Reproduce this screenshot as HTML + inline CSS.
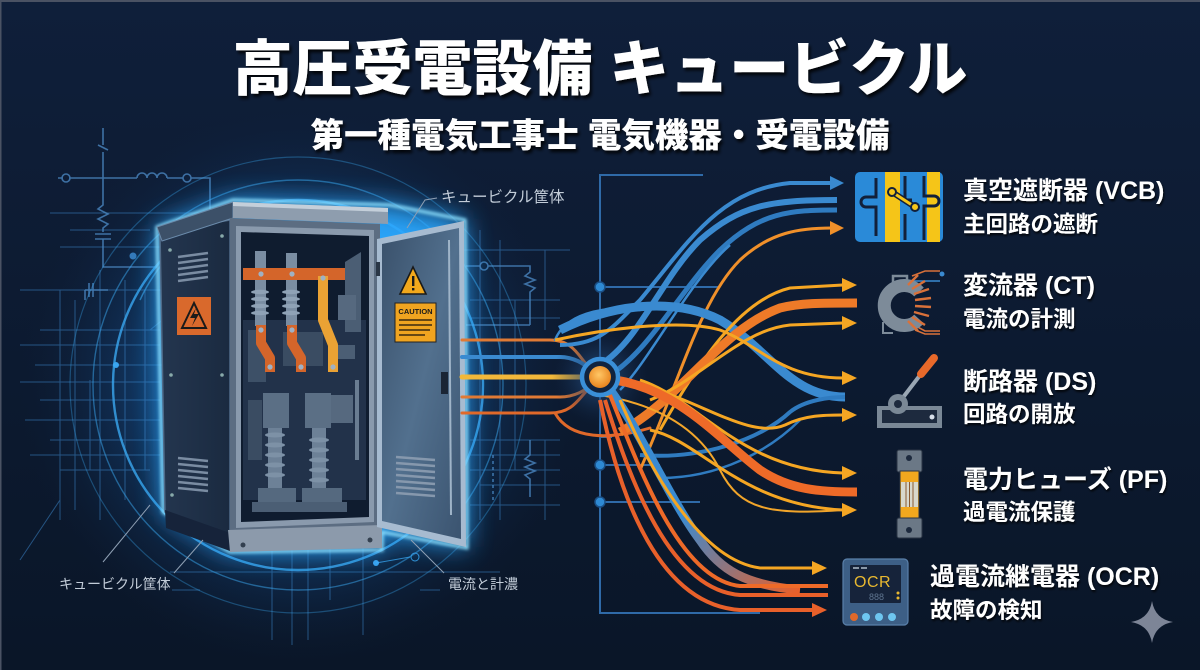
<!DOCTYPE html>
<html><head><meta charset="utf-8">
<style>
html,body{margin:0;padding:0;background:#0c1a30;}
svg{display:block;}
text{font-family:"Liberation Sans","Noto Sans CJK JP",sans-serif;}
</style></head>
<body>
<svg width="1200" height="670" viewBox="0 0 1200 670" xmlns="http://www.w3.org/2000/svg">
<defs>
  <linearGradient id="bg" x1="0" y1="0" x2="0" y2="1">
    <stop offset="0" stop-color="#0f1f3a"/>
    <stop offset="1" stop-color="#0a1628"/>
  </linearGradient>
  <radialGradient id="glowL" cx="300" cy="385" r="280" gradientUnits="userSpaceOnUse">
    <stop offset="0" stop-color="#1f78cc" stop-opacity="0.85"/>
    <stop offset="0.55" stop-color="#175699" stop-opacity="0.5"/>
    <stop offset="1" stop-color="#0f1f3a" stop-opacity="0"/>
  </radialGradient>
  <radialGradient id="hubHalo" cx="600" cy="377" r="48" gradientUnits="userSpaceOnUse">
    <stop offset="0" stop-color="#2a5a92" stop-opacity="0.9"/>
    <stop offset="1" stop-color="#13294a" stop-opacity="0"/>
  </radialGradient>
  <radialGradient id="hubCore" cx="0.45" cy="0.4" r="0.6">
    <stop offset="0" stop-color="#ffc766"/>
    <stop offset="1" stop-color="#e8841e"/>
  </radialGradient>
  <linearGradient id="doorG" x1="0" y1="0" x2="1" y2="1">
    <stop offset="0" stop-color="#3a516b"/>
    <stop offset="0.5" stop-color="#52708e"/>
    <stop offset="1" stop-color="#3b5470"/>
  </linearGradient>
  <linearGradient id="sideG" x1="0" y1="0" x2="1" y2="0">
    <stop offset="0" stop-color="#24364f"/>
    <stop offset="1" stop-color="#1a2a40"/>
  </linearGradient>
  <linearGradient id="blueOrange" x1="0" y1="0" x2="1" y2="1">
    <stop offset="0" stop-color="#3a8ad0"/>
    <stop offset="0.5" stop-color="#3a8ad0"/>
    <stop offset="1" stop-color="#e8602a"/>
  </linearGradient>
  <filter id="blur12" x="-30%" y="-30%" width="160%" height="160%"><feGaussianBlur stdDeviation="13"/></filter>
  <filter id="blur2" x="-30%" y="-30%" width="160%" height="160%"><feGaussianBlur stdDeviation="1.5"/></filter>
  <filter id="tshadow" x="-10%" y="-30%" width="120%" height="160%">
    <feDropShadow dx="2" dy="3" stdDeviation="1.5" flood-color="#000" flood-opacity="0.85"/>
  </filter>
  <filter id="tshadow2" x="-10%" y="-30%" width="120%" height="160%">
    <feDropShadow dx="1" dy="2" stdDeviation="1" flood-color="#000" flood-opacity="0.8"/>
  </filter>
</defs>

<!-- background -->
<rect width="1200" height="670" fill="url(#bg)"/>
<rect width="1200" height="670" fill="url(#glowL)"/>
<rect x="0" y="0" width="1200" height="2" fill="#4a5263"/>
<rect x="0" y="0" width="1.5" height="670" fill="#4a5263"/>

<!-- left grid lines -->
<g stroke="#3f8fd6" stroke-width="1" opacity="0.5" fill="none">
  <path d="M50 213H200 M60 247H210 M20 290H170 M40 330H160 M20 345H160 M35 365H165 M20 382H160 M40 400H160 M25 420H160 M50 440H160 M30 455H160 M60 470H150 M70 230H150"/>
  <path d="M60 290V520 M75 300V510 M100 270V520 M125 280V500 M145 290V470 M90 380V470"/>
  <path d="M460 250H570 M470 300H560 M470 318H560 M470 440H560 M470 455H560 M470 470H560 M470 505H560 M480 485H560"/>
  <path d="M480 230V520 M500 240V520 M515 300V470 M545 250V330 M545 440V520"/>
  <path d="M170 572H500 M172 590H200 M420 590H440"/>
  <path d="M272 545V640 M292 545V645 M308 545V640 M363 545V635 M330 545V600"/>
  <path d="M60 500L20 560 M150 330L250 250"/>
</g>
<!-- circuit symbols -->
<g stroke="#4a86c0" stroke-width="1.6" fill="none" opacity="0.8">
  <path d="M103 128V145 M98 145L108 150 M103 152V205 L98 209 L108 214 L98 219 L108 224 L103 228V232 M95 234H111 M95 239H111 M103 239V267H157"/>
  <path d="M58 178H63 M69 178H137 M137 178 a5 5 0 0 1 10 0 a5 5 0 0 1 10 0 a5 5 0 0 1 10 0 M167 178H183 M191 178H210V218"/>
  <circle cx="66" cy="178" r="4"/><circle cx="187" cy="178" r="4"/>
  <path d="M85 290H93 M89 283V297 M93 283V297 M93 290H108 M85 290V300"/>
  <path d="M466 266H480 M488 266H530V272 L525 276 L535 280 L525 284 L535 288 L530 292V325 M466 325H530"/>
  <circle cx="484" cy="266" r="4"/>
  <path d="M530 440V455 L525 459 L535 463 L525 467 L535 471 L525 475 L530 479V497"/>
  <path d="M493 455V500" stroke-dasharray="3 3"/>
</g>
<circle cx="133" cy="256" r="3.5" fill="#3f8fd6" opacity="0.8"/>
<circle cx="116" cy="365" r="3" fill="#3fb0ff" opacity="0.9"/>
<circle cx="376" cy="563" r="3" fill="#3fb0ff" opacity="0.9"/>
<circle cx="415" cy="557" r="4" fill="none" stroke="#3fb0ff" opacity="0.8"/>
<path d="M376 563L410 557" stroke="#3fb0ff" opacity="0.7"/>

<!-- concentric arcs -->
<g fill="none" stroke="#39a8f0">
  <circle cx="298" cy="385" r="185" stroke-width="2.4" opacity="0.8"/>
  <circle cx="298" cy="385" r="205" stroke-width="1.4" opacity="0.5"/>
  <circle cx="298" cy="385" r="228" stroke-width="1.2" opacity="0.35"/>
  <path d="M140 300 A170 170 0 0 1 175 250" stroke-width="1.5" opacity="0.6"/>
</g>

<!-- cabinet glow -->
<polygon points="157,227 233,200 390,205 465,220 467,548 382,532 382,550 230,552 163,512" fill="#2aa8ff" opacity="0.95" filter="url(#blur12)"/>
<polygon points="157,227 233,200 390,205 465,220 467,548 382,532 382,550 230,552 163,512" fill="none" stroke="#8fe2ff" stroke-width="3" filter="url(#blur2)"/>

<!-- cabinet body -->
<polygon points="160,232 230,220 230,536 165,512" fill="url(#sideG)" stroke="#4f6a88" stroke-width="1.5"/>
<polygon points="165,510 230,533 230,551 166,528" fill="#16233a"/>
<polygon points="157,227 233,202 233,218 162,241" fill="#3c5068" stroke="#6b8bab" stroke-width="1"/>
<polygon points="233,202 388,208 388,224 233,218" fill="#8e9dae"/>
<polygon points="233,202 388,208 388,212 233,206" fill="#c4cfda"/>
<polygon points="230,218 380,224 380,528 230,535" fill="#5c6d82"/>
<polygon points="236,226 374,230 374,522 236,528" fill="#8a9aad"/>
<polygon points="241,232 369,236 369,517 241,522" fill="#0f1c2f"/>
<polygon points="228,530 382,525 382,548 230,552" fill="#8c9aab"/>
<circle cx="243" cy="545" r="2.5" fill="#33404f"/><circle cx="370" cy="540" r="2.5" fill="#33404f"/>
<circle cx="170" cy="250" r="1.8" fill="#8aa"/><circle cx="171" cy="375" r="1.8" fill="#8aa"/><circle cx="172" cy="495" r="1.8" fill="#8aa"/>
<circle cx="222" cy="236" r="1.8" fill="#8aa"/><circle cx="222" cy="375" r="1.8" fill="#8aa"/>

<!-- vents left side -->
<g stroke="#7a8ca2" stroke-width="2.5">
  <path d="M178 257L208 253 M178 263L208 259 M178 269L208 265 M178 275L208 271 M178 281L208 277"/>
  <path d="M178 458L208 461 M178 464L208 467 M178 470L208 473 M178 476L208 479 M178 482L208 485 M178 488L208 491"/>
</g>
<!-- warning sign -->
<rect x="177" y="297" width="34" height="38" fill="#d9692c"/>
<polygon points="194,303 182,328 206,328" fill="none" stroke="#1a1a1a" stroke-width="2"/>
<path d="M196 308 L190 318 L195 318 L192 326 L199 314 L194 314 Z" fill="#1a1a1a"/>

<!-- interior -->
<g>
  <polygon points="243,320 366,320 366,500 243,500" fill="#22324a"/>
  <polygon points="345,262 361,252 361,332 345,332" fill="#4b5e74"/>
  <rect x="338" y="295" width="18" height="25" fill="#56697f"/>
  <rect x="248" y="330" width="18" height="52" fill="#3d5067"/>
  <rect x="283" y="332" width="40" height="34" fill="#3a4c62"/>
  <rect x="335" y="345" width="20" height="14" fill="#4b5e74"/>
  <rect x="263" y="393" width="26" height="35" fill="#5b6f85"/>
  <rect x="305" y="393" width="26" height="35" fill="#5b6f85"/>
  <rect x="331" y="395" width="22" height="28" fill="#56697f"/>
  <rect x="248" y="400" width="14" height="60" fill="#3a4c62"/>
  <rect x="355" y="380" width="4" height="80" fill="#6a7d92"/>
  <rect x="268" y="428" width="14" height="60" fill="#6d8197"/>
  <rect x="312" y="428" width="14" height="60" fill="#6d8197"/>
  <g fill="#7d91a6">
    <ellipse cx="275" cy="435" rx="10" ry="2.5"/><ellipse cx="275" cy="445" rx="10" ry="2.5"/><ellipse cx="275" cy="455" rx="10" ry="2.5"/><ellipse cx="275" cy="465" rx="10" ry="2.5"/><ellipse cx="275" cy="475" rx="10" ry="2.5"/>
    <ellipse cx="319" cy="440" rx="10" ry="2.5"/><ellipse cx="319" cy="450" rx="10" ry="2.5"/><ellipse cx="319" cy="460" rx="10" ry="2.5"/><ellipse cx="319" cy="470" rx="10" ry="2.5"/><ellipse cx="319" cy="480" rx="10" ry="2.5"/>
  </g>
  <rect x="258" y="488" width="38" height="14" fill="#55697f"/>
  <rect x="302" y="488" width="40" height="14" fill="#55697f"/>
  <rect x="252" y="502" width="95" height="10" fill="#4b5e74"/>
  <rect x="255" y="251" width="11" height="75" fill="#7a8da2"/>
  <rect x="286" y="253" width="11" height="73" fill="#7a8da2"/>
  <g fill="#8fa2b6">
    <ellipse cx="260" cy="292" rx="9" ry="2.2"/><ellipse cx="260" cy="299" rx="9" ry="2.2"/><ellipse cx="260" cy="306" rx="9" ry="2.2"/><ellipse cx="260" cy="313" rx="9" ry="2.2"/>
    <ellipse cx="291" cy="292" rx="9" ry="2.2"/><ellipse cx="291" cy="299" rx="9" ry="2.2"/><ellipse cx="291" cy="306" rx="9" ry="2.2"/><ellipse cx="291" cy="313" rx="9" ry="2.2"/>
  </g>
  <rect x="243" y="268" width="102" height="12" fill="#d4652a"/>
  <path d="M261 325V343L270 358V372" stroke="#d4652a" stroke-width="10" fill="none" stroke-linejoin="round"/>
  <path d="M292 325V343L301 358V372" stroke="#d4652a" stroke-width="10" fill="none" stroke-linejoin="round"/>
  <path d="M323 276V320L333 345V372" stroke="#eaa234" stroke-width="10" fill="none" stroke-linejoin="round"/>
  <g fill="#9fb1c4">
    <circle cx="261" cy="274" r="2.6"/><circle cx="292" cy="274" r="2.6"/><circle cx="323" cy="278" r="2.6"/>
    <circle cx="261" cy="330" r="2.6"/><circle cx="292" cy="330" r="2.6"/>
    <circle cx="270" cy="367" r="2.6"/><circle cx="301" cy="367" r="2.6"/><circle cx="333" cy="367" r="2.6"/>
  </g>
</g>

<!-- door -->
<polygon points="377,239 464,221 466,547 377,527" fill="#a7bbd0"/>
<polygon points="382,244 459,228 461,539 382,521" fill="url(#doorG)"/>
<line x1="449" y1="240" x2="451" y2="515" stroke="#9fb4c8" stroke-width="2"/>
<rect x="441" y="372" width="7" height="22" fill="#1a2535"/>
<rect x="376" y="262" width="4" height="14" fill="#2a3646"/>
<polygon points="413,267 400,294 426,294" fill="#f2a81c" stroke="#1a1a1a" stroke-width="1.6"/>
<rect x="412" y="276" width="2.4" height="10" fill="#1a1a1a"/><rect x="412" y="288" width="2.4" height="2.4" fill="#1a1a1a"/>
<rect x="395" y="303" width="41" height="39" fill="#f0a420" stroke="#222" stroke-width="1"/>
<text x="415.5" y="314" font-size="7.5" font-weight="bold" fill="#1a1a1a" text-anchor="middle">CAUTION</text>
<g stroke="#3a2a10" stroke-width="1.6"><path d="M399 320H432 M399 325H432 M399 330H430 M399 335H425"/></g>
<g stroke="#8698ad" stroke-width="2.5">
  <path d="M396 457L435 460 M396 463L435 466 M396 469L435 472 M396 475L435 478 M396 481L435 484 M396 487L435 490 M396 493L435 496"/>
</g>

<!-- labels around cabinet -->
<g stroke="#8fa0b4" stroke-width="1" fill="none">
  <path d="M437 198 L425 200 L407 228"/>
  <path d="M174 573 L203 540"/>
  <path d="M103 562 L150 505"/>
  <path d="M444 573 L411 540"/>
</g>
<text x="441" y="202" font-size="15.5" fill="#c2ccd8">キュービクル筐体</text>
<text x="59" y="589" font-size="14" fill="#c2ccd8">キュービクル筐体</text>
<text x="448" y="589" font-size="14" fill="#c2ccd8">電流と計濃</text>

<!-- bus line -->
<g stroke="#2f6aa8" stroke-width="2" fill="none">
  <path d="M703 175H600V613H760"/>
  <path d="M600 287H720 M600 465H660 M600 502H700 M600 437H612"/>
</g>
<g fill="#2e8ad4" stroke="#1b4f85" stroke-width="1.5">
  <circle cx="600" cy="287" r="5"/><circle cx="600" cy="465" r="5"/><circle cx="600" cy="502" r="5"/>
</g>

<!-- incoming lines -->
<g fill="none" stroke-linecap="round">
  <path d="M462 340H550C575 340 580 360 590 368" stroke="#e07a35" stroke-width="3"/>
  <path d="M462 357H560C575 357 585 365 592 370" stroke="#3a8ad0" stroke-width="4"/>
  <path d="M462 377H584" stroke="#f2b83a" stroke-width="5"/>
  <path d="M462 397H560C575 397 585 390 592 385" stroke="#e07a35" stroke-width="3"/>
  <path d="M462 413H550C575 413 580 395 590 388" stroke="#e0692a" stroke-width="3"/>
  <path d="M555 340C565 315 600 305 640 310" stroke="#3a8ad0" stroke-width="2.5"/>
  <path d="M555 413C570 440 610 440 650 428" stroke="#e0692a" stroke-width="3"/>
</g>

<circle cx="600" cy="377" r="48" fill="url(#hubHalo)"/>

<!-- outgoing flows -->
<g fill="none" stroke-linecap="butt">
  <path d="M560 345C600 345 612 328 640 300C690 240 720 190 790 183L832 183" stroke="#3a8ad0" stroke-width="4"/>
  <path d="M600 365C640 340 660 280 700 240C740 205 770 200 837 200" stroke="#3a8ad0" stroke-width="6"/>
  <path d="M610 375C650 350 680 290 720 250C760 212 790 210 837 210" stroke="#2f7bc0" stroke-width="5"/>
  <path d="M620 390C650 360 690 280 730 245" stroke="#3a8ad0" stroke-width="2.5"/>
  <path d="M640 470C680 380 700 300 740 260C770 232 800 228 832 228" stroke="#f0902a" stroke-width="3"/>
  <path d="M560 330C620 300 680 300 720 320C770 350 790 397 845 397" stroke="#3a8ad0" stroke-width="9"/>
  <path d="M640 455C700 460 760 440 790 412C805 400 830 397 845 397" stroke="#2f7bc0" stroke-width="4"/>
  <path d="M660 478C720 478 770 450 800 420" stroke="#2f7bc0" stroke-width="2.5"/>
  <path d="M660 430C700 360 740 300 790 288L843 285" stroke="#f5a623" stroke-width="3"/>
  <path d="M620 432C680 400 720 330 780 308C800 303 820 303 857 303" stroke="#ee7a28" stroke-width="9"/>
  <path d="M650 400C700 380 740 330 790 325L843 323" stroke="#f5a623" stroke-width="3"/>
  <path d="M555 340C600 330 680 318 720 330C760 345 780 378 843 378" stroke="#f5a623" stroke-width="3"/>
  <path d="M640 385C700 400 750 440 785 425C805 415 825 415 843 415" stroke="#f5a623" stroke-width="3"/>
  <path d="M640 380C700 400 740 470 843 473" stroke="#f5a623" stroke-width="3"/>
  <path d="M615 380C680 390 720 440 760 470C790 490 820 492 857 492" stroke="#ee6a28" stroke-width="9"/>
  <path d="M650 430C700 440 740 505 843 510" stroke="#f5a623" stroke-width="3"/>
  <path d="M600 395C660 405 700 430 720 470C740 510 770 515 843 510" stroke="#f2a52a" stroke-width="2"/>
  <path d="M610 390C640 430 670 500 700 540C720 570 745 585 800 590" stroke="url(#blueOrange)" stroke-width="9"/>
  <path d="M620 400C650 470 700 560 760 568L813 568" stroke="#f5a623" stroke-width="3"/>
  <path d="M610 395C640 470 680 580 740 586L828 586" stroke="#ee6a28" stroke-width="4"/>
  <path d="M605 400C630 480 670 590 740 595L828 595" stroke="#e8602a" stroke-width="4"/>
  <path d="M600 400C620 500 660 605 740 610L813 610" stroke="#e8602a" stroke-width="4"/>
</g>
<g>
  <polygon points="830,176 844,183 830,190" fill="#3a8ad0"/>
  <polygon points="830,221 844,228 830,235" fill="#f0902a"/>
  <polygon points="842,278 857,285 842,292" fill="#f5a623"/>
  <polygon points="842,316 857,323 842,330" fill="#f5a623"/>
  <polygon points="842,371 857,378 842,385" fill="#f5a623"/>
  <polygon points="842,408 857,415 842,422" fill="#f5a623"/>
  <polygon points="842,466 857,473 842,480" fill="#f5a623"/>
  <polygon points="842,503 857,510 842,517" fill="#f5a623"/>
  <polygon points="812,561 827,568 812,575" fill="#f5a623"/>
  <polygon points="812,603 827,610 812,617" fill="#e8602a"/>
</g>

<!-- hub -->
<circle cx="600" cy="377" r="18" fill="#10233f" stroke="#3a8fd8" stroke-width="4.5"/>
<circle cx="600" cy="377" r="11" fill="url(#hubCore)"/>

<!-- VCB icon -->
<g>
  <rect x="855" y="172" width="88" height="70" rx="5" fill="#2a8ad8"/>
  <rect x="885" y="172" width="15" height="70" fill="#f5c518"/>
  <rect x="927" y="172" width="13" height="70" fill="#f5c518"/>
  <path d="M876 178V197H866a5 5 0 0 0 0 10H876V236 M905 176V200H912 M905 214V240 M924 176V196H934a5 5 0 0 1 0 10H924V240" stroke="#12203a" stroke-width="3" fill="none"/>
  <line x1="892" y1="192" x2="915" y2="207" stroke="#12203a" stroke-width="6" stroke-linecap="round"/>
  <line x1="892" y1="192" x2="915" y2="207" stroke="#f5c518" stroke-width="3" stroke-linecap="round"/>
  <circle cx="892" cy="192" r="4" fill="#f5c518" stroke="#12203a" stroke-width="2"/>
  <circle cx="915" cy="207" r="4" fill="#f5c518" stroke="#12203a" stroke-width="2"/>
</g>
<!-- CT icon -->
<g>
  <path d="M893 287V276H907V285" stroke="#7d8b99" stroke-width="2.5" fill="none"/>
  <path d="M907 281H940" stroke="#3a8ad0" stroke-width="1.6"/>
  <circle cx="942" cy="274" r="2.5" fill="#3a8ad0"/>
  <path d="M912 276L925 271H940 M912 324L925 331H940 M915 330L925 334H940" stroke="#d9713a" stroke-width="1.6" fill="none"/>
  <path d="M919 292A20 20 0 1 0 919 319" stroke="#7d8b99" stroke-width="13" fill="none"/>
  <g stroke="#d9713a" stroke-width="2.4">
    <line x1="908" y1="285" x2="918" y2="275"/><line x1="912" y1="289" x2="925" y2="281"/><line x1="914" y1="294" x2="929" y2="289"/>
    <line x1="915" y1="300" x2="931" y2="298"/><line x1="915" y1="306" x2="931" y2="307"/><line x1="914" y1="312" x2="929" y2="316"/>
    <line x1="912" y1="317" x2="925" y2="325"/><line x1="908" y1="321" x2="918" y2="331"/>
  </g>
  <path d="M883 322V333H893" stroke="#7d8b99" stroke-width="2" fill="none"/>
</g>
<!-- DS icon -->
<g>
  <rect x="877" y="406" width="65" height="22" fill="#7a8896"/>
  <rect x="882" y="410" width="55" height="13" fill="#1d2a3e"/>
  <circle cx="932" cy="417" r="2.5" fill="#d8e0ea"/>
  <line x1="898" y1="404" x2="924" y2="370" stroke="#9aa7b4" stroke-width="4"/>
  <line x1="921" y1="374" x2="934" y2="358" stroke="#e8692a" stroke-width="8" stroke-linecap="round"/>
  <circle cx="898" cy="404" r="10" fill="#7a8896"/>
  <circle cx="898" cy="404" r="4" fill="#1d2a3e"/>
</g>
<!-- PF icon -->
<g>
  <rect x="897" y="450" width="25" height="22" rx="2" fill="#6b7886" stroke="#2a3444" stroke-width="1"/>
  <circle cx="909" cy="458" r="3" fill="#1d2a3e"/>
  <rect x="900" y="471" width="19" height="48" fill="#f2a81e" stroke="#2a3444" stroke-width="1"/>
  <rect x="901" y="482" width="17" height="25" fill="#d8d8cc"/>
  <path d="M906 482V507 M909.5 482V507 M913 482V507" stroke="#8a5a30" stroke-width="1"/>
  <rect x="897" y="518" width="25" height="20" rx="2" fill="#6b7886" stroke="#2a3444" stroke-width="1"/>
  <circle cx="909" cy="530" r="3" fill="#1d2a3e"/>
</g>
<!-- OCR icon -->
<g>
  <rect x="843" y="559" width="65" height="66" rx="4" fill="#3d5f86" stroke="#5a80aa" stroke-width="1.2"/>
  <rect x="850" y="565" width="51" height="38" rx="1" fill="#16233a"/>
  <rect x="853" y="567" width="6" height="2" fill="#8a98a8"/><rect x="861" y="567" width="6" height="2" fill="#8a98a8"/>
  <text x="854" y="587" font-size="16" fill="#e8b830" font-family="Liberation Mono, monospace" letter-spacing="0.5">OCR</text>
  <text x="869" y="600" font-size="9" fill="#5f7590" font-family="Liberation Mono, monospace">888</text>
  <circle cx="898" cy="593" r="1.5" fill="#e8b830"/><circle cx="898" cy="598" r="1.5" fill="#e8b830"/>
  <circle cx="854" cy="617" r="4" fill="#e0692a"/>
  <circle cx="866" cy="617" r="4" fill="#6ec6f0"/>
  <circle cx="879" cy="617" r="4" fill="#6ec6f0"/>
  <circle cx="892" cy="617" r="4" fill="#6ec6f0"/>
</g>
<!-- sparkle -->
<path d="M1152 601 Q1155 619 1173 622 Q1155 625 1152 643 Q1149 625 1131 622 Q1149 619 1152 601Z" fill="#7d8597"/>

<!-- right labels -->
<g fill="#ffffff" font-weight="bold" filter="url(#tshadow2)">
  <text x="963" y="199" font-size="25">真空遮断器 (VCB)</text>
  <text x="963" y="232" font-size="22.5">主回路の遮断</text>
  <text x="963" y="294" font-size="25">変流器 (CT)</text>
  <text x="963" y="327" font-size="22.5">電流の計測</text>
  <text x="963" y="390" font-size="25">断路器 (DS)</text>
  <text x="963" y="422" font-size="22.5">回路の開放</text>
  <text x="963" y="488" font-size="25">電力ヒューズ (PF)</text>
  <text x="963" y="520" font-size="22.5">過電流保護</text>
  <text x="930" y="585" font-size="25">過電流継電器 (OCR)</text>
  <text x="930" y="618" font-size="22.5">故障の検知</text>
</g>

<!-- title -->
<g fill="#ffffff" font-weight="900" text-anchor="middle" filter="url(#tshadow)">
  <text x="600" y="90" font-size="60">高圧受電設備 キュービクル</text>
  <text x="600" y="147" font-size="33.5">第一種電気工事士 電気機器・受電設備</text>
</g>
</svg>
</body></html>
